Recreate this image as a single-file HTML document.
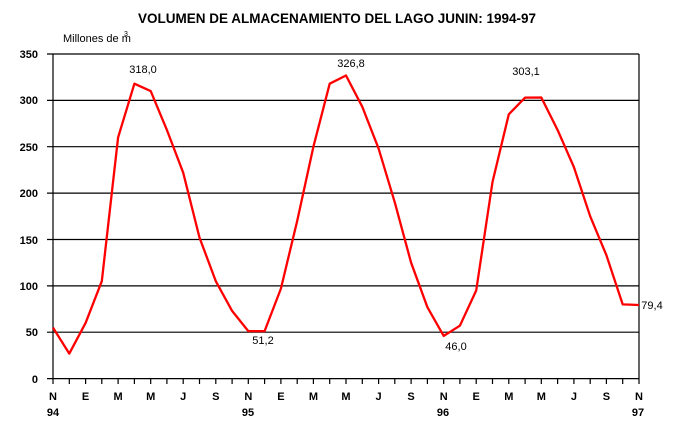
<!DOCTYPE html>
<html><head><meta charset="utf-8"><style>
html,body{margin:0;padding:0;background:#fff;}
svg{display:block;font-family:"Liberation Sans",Arial,sans-serif;}
.b{font-weight:bold;font-size:11px;}
.s{font-size:11px;}
</style></head><body>
<svg width="675" height="428" viewBox="0 0 675 428">
<text x="337" y="23" text-anchor="middle" font-weight="bold" font-size="13.5">VOLUMEN DE ALMACENAMIENTO DEL LAGO JUNIN: 1994-97</text>
<text x="63" y="42" class="s" font-size="10">Millones de m</text><text x="124" y="36" font-size="7">3</text>
<g stroke="#000" stroke-width="1.2">
<line x1="47" y1="54" x2="639" y2="54"/>
<line x1="47" y1="100.4" x2="639" y2="100.4"/>
<line x1="47" y1="146.7" x2="639" y2="146.7"/>
<line x1="47" y1="193.1" x2="639" y2="193.1"/>
<line x1="47" y1="239.5" x2="639" y2="239.5"/>
<line x1="47" y1="285.9" x2="639" y2="285.9"/>
<line x1="47" y1="332.2" x2="639" y2="332.2"/>
<line x1="47" y1="378.6" x2="639" y2="378.6"/>
<line x1="53" y1="54" x2="53" y2="384"/>
<line x1="639" y1="54" x2="639" y2="384"/>
</g>
<path stroke="#000" stroke-width="1.2" d="M69.3 378.6v5.4M85.6 378.6v5.4M101.8 378.6v5.4M118.1 378.6v5.4M134.4 378.6v5.4M150.7 378.6v5.4M166.9 378.6v5.4M183.2 378.6v5.4M199.5 378.6v5.4M215.8 378.6v5.4M232.1 378.6v5.4M248.3 378.6v5.4M264.6 378.6v5.4M280.9 378.6v5.4M297.2 378.6v5.4M313.4 378.6v5.4M329.7 378.6v5.4M346 378.6v5.4M362.3 378.6v5.4M378.6 378.6v5.4M394.8 378.6v5.4M411.1 378.6v5.4M427.4 378.6v5.4M443.7 378.6v5.4M459.9 378.6v5.4M476.2 378.6v5.4M492.5 378.6v5.4M508.8 378.6v5.4M525.1 378.6v5.4M541.3 378.6v5.4M557.6 378.6v5.4M573.9 378.6v5.4M590.2 378.6v5.4M606.4 378.6v5.4M622.7 378.6v5.4"/>
<g class="b" text-anchor="end">
<text x="38" y="58">350</text><text x="38" y="104">300</text><text x="38" y="151">250</text>
<text x="38" y="197">200</text><text x="38" y="244">150</text><text x="38" y="290">100</text>
<text x="38" y="336">50</text><text x="38" y="383">0</text>
</g>
<g class="b" text-anchor="middle">
<text x="53" y="400">N</text><text x="85.6" y="400">E</text><text x="118.1" y="400">M</text><text x="150.7" y="400">M</text><text x="183.2" y="400">J</text><text x="215.8" y="400">S</text>
<text x="248.3" y="400">N</text><text x="280.9" y="400">E</text><text x="313.4" y="400">M</text><text x="346" y="400">M</text><text x="378.6" y="400">J</text><text x="411.1" y="400">S</text>
<text x="443.7" y="400">N</text><text x="476.2" y="400">E</text><text x="508.8" y="400">M</text><text x="541.3" y="400">M</text><text x="573.9" y="400">J</text><text x="606.4" y="400">S</text>
<text x="639" y="400">N</text>
<text x="53" y="416">94</text><text x="248" y="416">95</text><text x="443" y="416">96</text><text x="638" y="416">97</text>
</g>
<polyline fill="none" stroke="#ff0000" stroke-width="2.3" stroke-linejoin="round" points="53,327.6 69.3,353.6 85.6,322.9 101.8,281.2 118.1,137.4 134.4,83.7 150.7,91.1 166.9,130 183.2,172.7 199.5,237.6 215.8,281.2 232.1,310.9 248.3,331.1 264.6,331.1 280.9,288.6 297.2,220.9 313.4,146.7 329.7,83.7 346,75.5 362.3,106.8 378.6,148.6 394.8,202.4 411.1,262.7 427.4,307.2 443.7,335.9 459.9,325.7 476.2,290.5 492.5,182 508.8,114.3 525.1,97.6 541.3,97.5 557.6,130 573.9,167.1 590.2,216.3 606.4,255.2 622.7,304.4 639,305"/>
<g class="s" text-anchor="middle" font-size="10.5">
<text x="143" y="73">318,0</text>
<text x="351" y="67">326,8</text>
<text x="526" y="75">303,1</text>
<text x="263" y="344">51,2</text>
<text x="456" y="350">46,0</text>
<text x="652" y="309">79,4</text>
</g>
</svg>
</body></html>
